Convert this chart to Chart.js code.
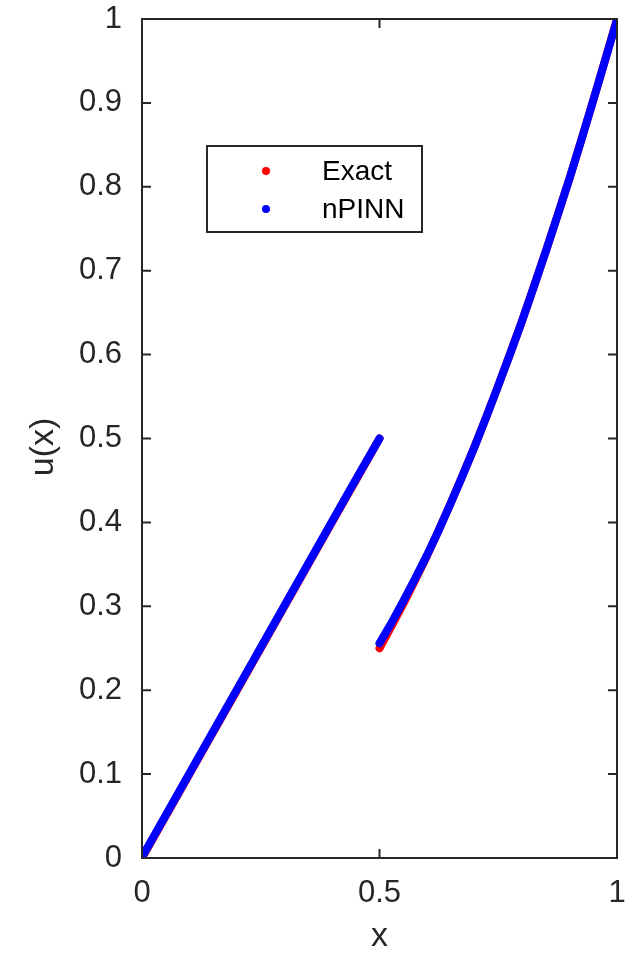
<!DOCTYPE html>
<html>
<head>
<meta charset="utf-8">
<script src="https://cdn.jsdelivr.net/npm/chart.js@4"></script>
<style>
  html, body { margin: 0; padding: 0; background: #ffffff; }
  #wrap { width: 628px; height: 955px; position: relative; }
</style>
</head>
<body>
<div id="wrap"><canvas id="c"></canvas></div>
<script>
// ---- data ----
const xLeft   = [0, 0.05, 0.10, 0.15, 0.20, 0.25, 0.30, 0.35, 0.40, 0.45, 0.50];
const exactLeft = [0, 0.05, 0.10, 0.15, 0.20, 0.25, 0.30, 0.35, 0.40, 0.45, 0.50];
const npinnLeft = [0.001, 0.051, 0.101, 0.151, 0.201, 0.251, 0.301, 0.351, 0.401, 0.451, 0.500];

const xRight  = [0.50, 0.525, 0.55, 0.575, 0.60, 0.625, 0.65, 0.675, 0.70, 0.725, 0.75,
                 0.775, 0.80, 0.825, 0.85, 0.875, 0.90, 0.925, 0.95, 0.975, 1.00];
const exactRight = [0.250, 0.276, 0.303, 0.331, 0.360, 0.391, 0.423, 0.456, 0.490, 0.526, 0.563,
                    0.601, 0.640, 0.681, 0.723, 0.766, 0.810, 0.856, 0.903, 0.951, 1.000];
const npinnRight = [0.256, 0.280, 0.306, 0.333, 0.361, 0.391, 0.423, 0.456, 0.490, 0.526, 0.563,
                    0.601, 0.640, 0.681, 0.723, 0.766, 0.810, 0.856, 0.903, 0.951, 0.999];

const seriesNames = ['Exact', 'nPINN'];
const seriesColors = ['#ff0000', '#0000ff'];

const xTickValues = [0, 0.5, 1];
const xTickLabels = ['0', '0.5', '1'];
const yTickValues = [0, 0.1, 0.2, 0.3, 0.4, 0.5, 0.6, 0.7, 0.8, 0.9, 1];
const yTickLabels = ['0', '0.1', '0.2', '0.3', '0.4', '0.5', '0.6', '0.7', '0.8', '0.9', '1'];
const xTitle = 'x';
const yTitle = 'u(x)';

// ---- build ----
const pts = (xs, ys) => xs.map((x, i) => ({ x: x, y: ys[i] }));
const FONT = "'Liberation Sans', Arial, Helvetica, sans-serif";
const AXIS = '#262626';

function lineDs(label, data, color, order) {
  return {
    label: label, data: data, showLine: true,
    borderColor: color, backgroundColor: color,
    borderWidth: 8, borderCapStyle: 'round', borderJoinStyle: 'round',
    pointRadius: 0, pointHoverRadius: 0, order: order, tension: 0
  };
}

const datasets = [
  lineDs(seriesNames[0], pts(xLeft, exactLeft), seriesColors[0], 2),
  lineDs(seriesNames[0], pts(xRight, exactRight), seriesColors[0], 2),
  lineDs(seriesNames[1], pts(xLeft, npinnLeft), seriesColors[1], 1),
  lineDs(seriesNames[1], pts(xRight, npinnRight), seriesColors[1], 1)
];

const boxPlugin = {
  id: 'matlabBox',
  afterDatasetsDraw(chart) {
    const { ctx, chartArea: a, scales } = chart;
    ctx.save();
    ctx.strokeStyle = AXIS;
    ctx.lineWidth = 2;
    ctx.strokeRect(a.left, a.top, a.right - a.left, a.bottom - a.top);
    const tl = 9;
    ctx.beginPath();
    xTickValues.forEach(v => {
      const px = scales.x.getPixelForValue(v);
      ctx.moveTo(px, a.bottom); ctx.lineTo(px, a.bottom - tl);
      ctx.moveTo(px, a.top); ctx.lineTo(px, a.top + tl);
    });
    yTickValues.forEach(v => {
      const py = scales.y.getPixelForValue(v);
      ctx.moveTo(a.left, py); ctx.lineTo(a.left + tl, py);
      ctx.moveTo(a.right, py); ctx.lineTo(a.right - tl, py);
    });
    ctx.stroke();

    // legend box
    const L = 207, T = 146, R = 422, B = 232;
    ctx.fillStyle = '#ffffff';
    ctx.fillRect(L, T, R - L, B - T);
    ctx.strokeRect(L, T, R - L, B - T);
    const rows = [171, 209];
    seriesNames.forEach((name, i) => {
      ctx.fillStyle = seriesColors[i];
      ctx.beginPath();
      ctx.arc(266, rows[i], 4, 0, Math.PI * 2);
      ctx.fill();
      ctx.fillStyle = '#000000';
      ctx.font = '28px ' + FONT;
      ctx.textBaseline = 'middle';
      ctx.textAlign = 'left';
      ctx.fillText(name, 322, rows[i] + 1);
    });

    // y-axis title (slightly below the axis centre, as in the reference)
    ctx.translate(44, 447);
    ctx.rotate(-Math.PI / 2);
    ctx.fillStyle = AXIS;
    ctx.font = '34px ' + FONT;
    ctx.textAlign = 'center';
    ctx.textBaseline = 'middle';
    ctx.fillText(yTitle, 0, 0);
    ctx.restore();
  }
};

new Chart(document.getElementById('c'), {
  type: 'scatter',
  data: { datasets: datasets },
  plugins: [boxPlugin],
  options: {
    responsive: true,
    maintainAspectRatio: false,
    animation: false,
    events: [],
    layout: { padding: { top: 19, right: 11, left: 0, bottom: 0 } },
    plugins: { legend: { display: false }, tooltip: { enabled: false } },
    scales: {
      x: {
        type: 'linear', min: 0, max: 1,
        afterFit(s) { s.height = 97; s.paddingLeft = 0; s.paddingRight = 0; },
        afterBuildTicks(s) { s.ticks = xTickValues.map(v => ({ value: v })); },
        grid: { display: false, drawTicks: false },
        border: { display: false },
        ticks: {
          padding: 17, color: AXIS, maxRotation: 0, autoSkip: false,
          font: { family: FONT, size: 31 },
          callback(v, i) { return xTickLabels[i]; }
        },
        title: {
          display: true, text: xTitle, color: AXIS,
          font: { family: FONT, size: 34, lineHeight: 1.1 },
          padding: { top: 0, bottom: 0 }
        }
      },
      y: {
        type: 'linear', min: 0, max: 1,
        afterFit(s) { s.width = 142; s.paddingTop = 0; s.paddingBottom = 0; },
        afterBuildTicks(s) { s.ticks = yTickValues.map(v => ({ value: v })); },
        grid: { display: false, drawTicks: false },
        border: { display: false },
        ticks: {
          padding: 20, color: AXIS, autoSkip: false,
          font: { family: FONT, size: 31 },
          callback(v, i) { return yTickLabels[i]; }
        },
        title: { display: false }
      }
    }
  }
});
</script>
</body>
</html>
